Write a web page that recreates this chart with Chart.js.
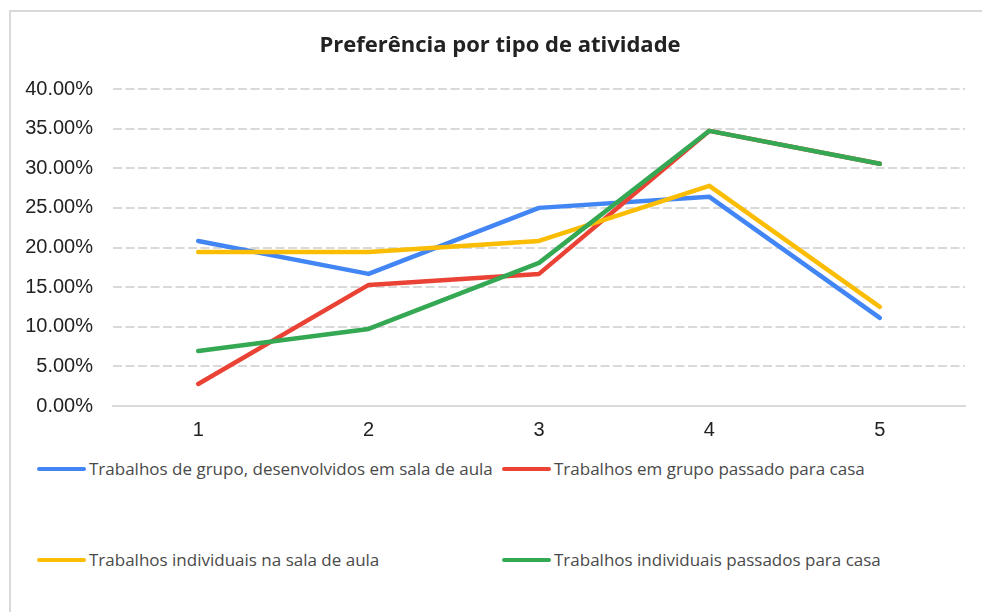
<!DOCTYPE html>
<html>
<head>
<meta charset="utf-8">
<script src="https://cdn.jsdelivr.net/npm/chart.js@4.4.1/dist/chart.umd.min.js"></script>
<style>
  html, body { margin: 0; padding: 0; background: #fff; width: 982px; height: 612px; overflow: hidden; }
  #frame { position: absolute; left: 9px; top: 10px; width: 1000px; height: 700px; border-left: 2px solid #d9d9d9; border-top: 2px solid #d9d9d9; }
  #wrap { position: absolute; left: 0; top: 0; width: 982px; height: 454px; }
  .leg { position: absolute; font-family: "Open Sans", sans-serif; font-size: 17px; color: #4a4a4a; white-space: nowrap; }
  .leg .sw { position: absolute; left: 0; top: -2px; width: 49px; height: 4px; border-radius: 2px; }
  .leg .tx { position: absolute; left: 52px; top: -12px; line-height: 23px; }
</style>
</head>
<body>
<div id="frame"></div>
<div id="wrap"><canvas id="c"></canvas></div>
<div id="legend"></div>
<script>
const title = 'Preferência por tipo de atividade';
const categories = ['1', '2', '3', '4', '5'];
const seriesNames = [
  'Trabalhos de grupo, desenvolvidos em sala de aula',
  'Trabalhos em grupo passado para casa',
  'Trabalhos individuais na sala de aula',
  'Trabalhos individuais passados para casa'
];
const grupoSala = [20.83, 16.67, 25.00, 26.39, 11.11];
const grupoCasa = [2.78, 15.28, 16.67, 34.72, 30.56];
const individualSala = [19.44, 19.44, 20.83, 27.78, 12.50];
const individualCasa = [6.94, 9.72, 18.06, 34.72, 30.56];
const yTicks = [0, 5, 10, 15, 20, 25, 30, 35, 40];

const colors = ['#4285F4', '#EA4335', '#FBBC04', '#34A853'];
const values = [grupoSala, grupoCasa, individualSala, individualCasa];
const drawOrder = [3, 2, 1, 0];

const datasets = values.map((v, i) => ({
  label: seriesNames[i],
  data: v,
  borderColor: colors[i],
  backgroundColor: colors[i],
  borderWidth: 4.5,
  pointRadius: 0,
  pointHoverRadius: 0,
  tension: 0,
  borderCapStyle: 'round',
  borderJoinStyle: 'round',
  order: drawOrder[i],
  fill: false
}));

const titlePlugin = {
  id: 'offsetTitle',
  afterDraw(chart) {
    const ctx = chart.ctx;
    ctx.save();
    ctx.font = 'bold 22px "Open Sans", sans-serif';
    ctx.fillStyle = '#222';
    ctx.textAlign = 'center';
    ctx.textBaseline = 'middle';
    ctx.fillText(title, 500, 46);
    ctx.restore();
  }
};

new Chart(document.getElementById('c'), {
  type: 'line',
  data: { labels: categories, datasets },
  plugins: [titlePlugin],
  options: {
    responsive: true,
    maintainAspectRatio: false,
    animation: false,
    layout: { padding: { left: 0, right: 17, top: 89, bottom: 0 } },
    plugins: {
      legend: { display: false },
      tooltip: { enabled: false },
      title: { display: false }
    },
    scales: {
      x: {
        offset: true,
        grid: { display: false, drawTicks: false },
        border: { display: true, color: '#d9d9d9', width: 2 },
        ticks: { color: '#222', padding: 12, font: { family: '"Liberation Sans", Arial, sans-serif', size: 20 } }
      },
      y: {
        min: 0, max: 40,
        afterFit: (s) => { s.width = 113; },
        afterBuildTicks: (s) => { s.ticks = yTicks.map(v => ({ value: v })); },
        grid: {
          drawTicks: false,
          lineWidth: 2,
          color: (ctx) => ctx.tick && ctx.tick.value === 0 ? 'rgba(0,0,0,0)' : '#d9d9d9'
        },
        border: { display: false, dash: [9, 3.5] },
        ticks: {
          color: '#222', padding: 20,
          font: { family: '"Liberation Sans", Arial, sans-serif', size: 20 },
          callback: (v) => Number(v).toFixed(2) + '%'
        }
      }
    }
  }
});

// HTML legend built from the series
const legendPos = [[37, 469], [502, 469], [37, 560], [502, 560]];
const legend = document.getElementById('legend');
seriesNames.forEach((name, i) => {
  const d = document.createElement('div');
  d.className = 'leg';
  d.style.left = legendPos[i][0] + 'px';
  d.style.top = legendPos[i][1] + 'px';
  const sw = document.createElement('div');
  sw.className = 'sw';
  sw.style.background = colors[i];
  const tx = document.createElement('div');
  tx.className = 'tx';
  tx.textContent = name;
  d.appendChild(sw); d.appendChild(tx);
  legend.appendChild(d);
});
</script>
</body>
</html>
